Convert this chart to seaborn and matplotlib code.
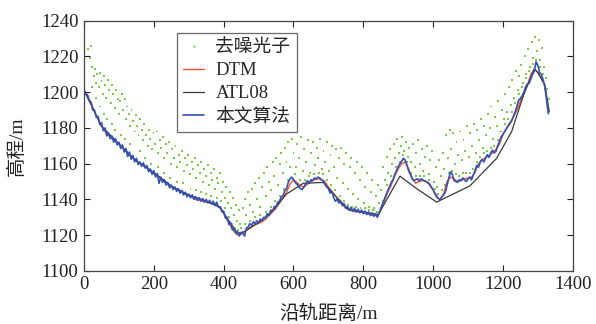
import numpy as np
import matplotlib
matplotlib.use("Agg")
import matplotlib.pyplot as plt
import seaborn as sns
from matplotlib.lines import Line2D

# 地面 DTM（每 10 m 取一点）
dtm_x = np.arange(0, 1340, 10)
dtm_h = [1201, 1198, 1194, 1189, 1185, 1181, 1178, 1176, 1174, 1172.5,
         1171, 1169, 1167, 1165, 1163, 1161.5, 1160, 1159, 1158, 1156,
         1154.5, 1153, 1152, 1150, 1148.5, 1147, 1146, 1145, 1144, 1143,
         1142, 1141, 1140, 1139.5, 1139, 1138.5, 1138, 1137.5, 1137, 1135,
         1132, 1128.5, 1125, 1122, 1120, 1120.5, 1122, 1123.5, 1125, 1126,
         1126.5, 1127.5, 1129, 1131, 1133, 1135, 1138, 1141, 1144, 1148.5,
         1151, 1149.5, 1147.5, 1147, 1148.5, 1150, 1151, 1151.5, 1151, 1150,
         1147, 1144.5, 1142, 1139, 1137, 1135, 1134, 1133.5, 1133, 1133,
         1132.5, 1132, 1131.5, 1131, 1131, 1134, 1139, 1144, 1148, 1153,
         1157, 1160, 1161, 1157, 1152, 1149, 1150, 1150.5, 1150, 1148,
         1145, 1141, 1140, 1143, 1150, 1152.5, 1151.5, 1150, 1150.5, 1151.5,
         1152, 1152.5, 1155, 1160, 1162, 1163.5, 1164.5, 1166, 1168, 1171,
         1176, 1180, 1183, 1186, 1190, 1195, 1199, 1204, 1210, 1213,
         1211, 1208, 1204, 1189]

# ATL08 地面点
atl_x = [0, 20, 50, 100, 150, 200, 250, 300, 350, 390, 420, 440, 460, 500,
         540, 580, 628, 685, 720, 760, 800, 843, 905, 953, 1010, 1105, 1182,
         1225, 1260, 1290, 1300, 1320, 1333]
atl_h = [1201, 1193, 1181, 1171, 1161.5, 1155, 1147.5, 1142.5, 1139, 1135.5,
         1126.5, 1121, 1122, 1127, 1133.5, 1143, 1149, 1149.5, 1142, 1134,
         1133, 1131.5, 1153, 1146, 1138.5, 1147.5, 1163, 1178, 1199, 1213,
         1211, 1204, 1189]

# 本文算法（每 5 m 取一点）
alg_h = [1201.5, 1199, 1198.5, 1195, 1194.5, 1190, 1190, 1186, 1186.5, 1182,
         1183, 1178.5, 1180, 1175.5, 1177, 1174, 1175.5, 1172, 1174, 1170.5, 1172,
         1168.5, 1170.5, 1166.5, 1168.5, 1164, 1166.5, 1162.5, 1164.5, 1161, 1163,
         1159.5, 1161, 1158.5, 1160.5, 1157.5, 1159, 1155.5, 1157, 1154, 1156,
         1152.5, 1154.5, 1149, 1152.5, 1149.5, 1151, 1148, 1149.5, 1146.5, 1148,
         1145.5, 1147, 1144.5, 1146, 1143.5, 1145, 1142.5, 1144, 1141.5, 1143,
         1141, 1142.5, 1140, 1141.5, 1139.5, 1141, 1139, 1140.5, 1138.5, 1140,
         1138, 1139.5, 1137.5, 1139, 1136.5, 1138.5, 1135.5, 1136, 1133, 1133.5,
         1129.5, 1130, 1126, 1127, 1123, 1123.5, 1121, 1122, 1119.5, 1121.5,
         1121, 1119.5, 1124, 1124.5, 1126.5, 1125.5, 1127.5, 1126.5, 1128, 1127,
         1129, 1128, 1130, 1129.5, 1132, 1131, 1134, 1133.5, 1136, 1136,
         1138.5, 1139, 1141.5, 1142, 1145, 1146, 1149.5, 1151.5, 1152.5, 1151,
         1149.5, 1148.5, 1147, 1146, 1145.5, 1147, 1149, 1150.5, 1149, 1151,
         1150.5, 1152, 1151.5, 1152.5, 1152, 1151, 1150.5, 1148.5, 1147, 1146,
         1143.5, 1144.5, 1141, 1139, 1140, 1138, 1139, 1136.5, 1137.5, 1135,
         1136, 1134, 1135.5, 1133.5, 1135, 1133, 1134.5, 1132.5, 1134, 1132,
         1133.5, 1131.5, 1133, 1131, 1132.5, 1130.5, 1132, 1130, 1132, 1135,
         1137.5, 1140, 1142.5, 1145, 1147, 1149.5, 1151, 1154, 1156, 1158.5,
         1160, 1161.5, 1163, 1162, 1159, 1156, 1154, 1151.5, 1150.5, 1151,
         1151.5, 1150.5, 1151.5, 1151, 1150.5, 1150, 1149.5, 1148.5, 1147, 1145.5,
         1143.5, 1142, 1140.5, 1140, 1141.5, 1142.5, 1144, 1148, 1152, 1155.5,
         1154, 1150.5, 1150, 1149.5, 1151, 1150.5, 1152, 1151, 1150, 1151.5,
         1152.5, 1151, 1153.5, 1156, 1159, 1158, 1161, 1162.5, 1161, 1163,
         1165, 1163.5, 1166, 1167.5, 1166, 1167, 1170, 1172.5, 1175, 1176.5,
         1178, 1179.5, 1181, 1182.5, 1184, 1186.5, 1189, 1192, 1195.5, 1196.5,
         1198, 1200, 1203, 1204.5, 1205, 1207.5, 1210, 1212, 1217, 1215,
         1211, 1210, 1207, 1203, 1196, 1188]
assert len(alg_h) == 267, len(alg_h)
alg_x = np.arange(0, 1335, 5)

# 去噪光子 (距离, 高程)
ph_0 = [(12, 1224), (17, 1219), (20, 1226), (24, 1214), (28, 1209), (31, 1213), (35, 1205),
        (38, 1210), (42, 1203), (46, 1211), (50, 1206), (53, 1199), (57, 1209), (61, 1204),
        (64, 1197), (68, 1207), (72, 1201), (76, 1194), (80, 1204), (84, 1199), (88, 1191),
        (92, 1201), (96, 1196), (100, 1188), (104, 1195), (108, 1199), (112, 1190), (116, 1196),
        (120, 1185), (124, 1192), (128, 1188), (132, 1181), (136, 1190), (140, 1184), (145, 1178),
        (148, 1187), (22, 1203), (34, 1197), (47, 1192), (58, 1188), (66, 1185), (79, 1182),
        (90, 1179), (106, 1176), (118, 1174), (131, 1171)]
ph_150 = [(152, 1181), (156, 1176), (160, 1185), (165, 1179), (169, 1173), (173, 1182), (178, 1176),
          (182, 1170), (186, 1179), (190, 1174), (195, 1168), (199, 1177), (204, 1171), (208, 1178),
          (212, 1166), (217, 1173), (221, 1169), (226, 1175), (230, 1163), (235, 1171), (239, 1166),
          (244, 1172), (248, 1160), (253, 1168), (258, 1163), (262, 1170), (267, 1158), (271, 1165),
          (276, 1161), (281, 1167), (285, 1156), (290, 1163), (294, 1159), (299, 1165), (160, 1167),
          (176, 1163), (193, 1160), (211, 1158), (229, 1155), (247, 1152), (265, 1150), (283, 1149)]
ph_300 = [(304, 1154), (308, 1161), (313, 1157), (318, 1163), (322, 1152), (327, 1159), (331, 1155),
          (336, 1161), (340, 1150), (345, 1157), (349, 1153), (354, 1159), (358, 1148), (363, 1155),
          (367, 1151), (372, 1157), (376, 1146), (381, 1152), (385, 1149), (390, 1155), (394, 1144),
          (399, 1150), (403, 1141), (408, 1147), (412, 1138), (417, 1144), (421, 1135), (426, 1141),
          (430, 1131), (435, 1137), (439, 1128), (444, 1134), (448, 1126), (305, 1146), (320, 1145),
          (335, 1144), (350, 1143), (365, 1142), (380, 1141), (392, 1139), (405, 1135), (415, 1130),
          (425, 1126), (433, 1124), (442, 1123), (450, 1124)]
ph_450 = [(455, 1135), (460, 1140), (465, 1131), (470, 1144), (475, 1137), (480, 1146), (485, 1133),
          (490, 1149), (495, 1140), (500, 1152), (505, 1136), (510, 1147), (515, 1155), (520, 1142),
          (525, 1158), (530, 1150), (535, 1145), (540, 1161), (545, 1153), (550, 1163), (555, 1148),
          (560, 1160), (565, 1166), (570, 1155), (575, 1169), (580, 1161), (585, 1172), (590, 1158),
          (595, 1174), (600, 1166), (460, 1126), (475, 1128), (490, 1130), (505, 1131), (520, 1133),
          (535, 1136), (548, 1139), (560, 1142), (572, 1146), (585, 1151)]
ph_600 = [(606, 1158), (611, 1171), (616, 1163), (621, 1175), (626, 1156), (631, 1168), (636, 1161),
          (641, 1173), (646, 1155), (651, 1166), (656, 1172), (661, 1159), (666, 1169), (671, 1163),
          (676, 1174), (681, 1157), (686, 1167), (691, 1161), (696, 1172), (701, 1156), (706, 1165),
          (711, 1170), (716, 1158), (721, 1168), (726, 1152), (731, 1163), (736, 1169), (741, 1149),
          (746, 1160), (751, 1166), (756, 1146), (761, 1158), (766, 1163), (771, 1143), (776, 1155),
          (781, 1161), (786, 1140), (791, 1151), (796, 1158), (801, 1138), (806, 1147), (811, 1155),
          (816, 1136), (821, 1144), (826, 1151), (831, 1135), (836, 1142), (841, 1148), (846, 1138),
          (605, 1154), (618, 1151), (632, 1151), (645, 1153), (658, 1154), (672, 1155), (684, 1154),
          (696, 1151), (708, 1148), (720, 1145), (732, 1142), (744, 1139), (756, 1137), (768, 1136),
          (780, 1136), (792, 1135), (804, 1135), (816, 1134), (828, 1134), (838, 1133)]
ph_850 = [(852, 1145), (857, 1158), (862, 1151), (867, 1164), (872, 1155), (877, 1168), (882, 1160),
          (887, 1171), (892, 1163), (897, 1174), (902, 1166), (907, 1170), (912, 1175), (917, 1167),
          (922, 1172), (927, 1164), (932, 1169), (937, 1161), (942, 1171), (947, 1158), (952, 1166),
          (957, 1173), (962, 1160), (967, 1168), (972, 1156), (977, 1164), (982, 1170), (987, 1154),
          (992, 1162), (997, 1167), (855, 1139), (868, 1148), (880, 1153), (893, 1158), (905, 1161),
          (915, 1165), (926, 1161), (938, 1155), (950, 1153), (963, 1153), (975, 1153), (988, 1151)]
ph_1000 = [(1002, 1150), (1007, 1158), (1012, 1147), (1017, 1162), (1022, 1153), (1027, 1166),
           (1032, 1157), (1037, 1176), (1042, 1163), (1047, 1179), (1052, 1168), (1057, 1177),
           (1062, 1160), (1067, 1172), (1072, 1165), (1077, 1178), (1082, 1162), (1087, 1173),
           (1092, 1167), (1097, 1181), (1102, 1164), (1107, 1177), (1112, 1170), (1117, 1182),
           (1122, 1166), (1127, 1179), (1132, 1173), (1137, 1185), (1142, 1169), (1147, 1181),
           (1005, 1146), (1015, 1143), (1025, 1145), (1035, 1148), (1045, 1155), (1055, 1156),
           (1065, 1154), (1075, 1153), (1085, 1155), (1095, 1155), (1105, 1155), (1115, 1157),
           (1125, 1161), (1135, 1164), (1145, 1166)]
ph_1150 = [(1152, 1176), (1157, 1188), (1162, 1180), (1167, 1192), (1172, 1174), (1177, 1186),
           (1182, 1181), (1187, 1195), (1192, 1178), (1197, 1190), (1202, 1185), (1207, 1199),
           (1212, 1189), (1217, 1203), (1222, 1193), (1227, 1207), (1232, 1197), (1237, 1212),
           (1242, 1201), (1247, 1209), (1252, 1215), (1257, 1205), (1262, 1220), (1267, 1210),
           (1272, 1224), (1277, 1214), (1282, 1228), (1287, 1219), (1292, 1231), (1297, 1223),
           (1302, 1229), (1307, 1218), (1312, 1225), (1317, 1214), (1322, 1208), (1327, 1202),
           (1332, 1196), (1155, 1167), (1165, 1169), (1175, 1170), (1185, 1173), (1195, 1178),
           (1205, 1182), (1215, 1185), (1225, 1189), (1235, 1194), (1245, 1199), (1255, 1203),
           (1265, 1208), (1275, 1212), (1285, 1216), (1295, 1218), (1305, 1214), (1315, 1210)]

photons = ph_0 + ph_150 + ph_300 + ph_450 + ph_600 + ph_850 + ph_1000 + ph_1150
ph_x = [p[0] for p in photons]
ph_h = [p[1] for p in photons]

c_ph = '#78cc48'
c_dtm = '#f2512b'
c_atl = '#3a3a3a'
c_alg = '#3152b5'

sns.set_style('ticks')
plt.rcParams['font.family'] = ['Liberation Serif', 'Noto Sans CJK SC']
plt.rcParams['axes.unicode_minus'] = False

fig = plt.figure(figsize=(5.96, 3.24), dpi=100)
ax = fig.add_axes([0.141, 0.164, 0.820, 0.772])

sns.scatterplot(x=ph_x, y=ph_h, ax=ax, s=2, color=c_ph, edgecolor='none', marker='s')
sns.lineplot(x=dtm_x, y=dtm_h, ax=ax, color=c_dtm, lw=1.0, sort=False)
sns.lineplot(x=atl_x, y=atl_h, ax=ax, color=c_atl, lw=0.9, sort=False)
sns.lineplot(x=alg_x, y=alg_h, ax=ax, color=c_alg, lw=1.2, sort=False)

ax.set_xlim(0, 1400)
ax.set_ylim(1100, 1240)
ax.set_xticks(range(0, 1401, 200))
ax.set_yticks(range(1100, 1241, 20))
ax.tick_params(direction='in', top=True, right=True, length=4, width=0.8,
               labelsize=13.5, colors='#222222', pad=4)
for sp in ax.spines.values():
    sp.set_color('#444444')
    sp.set_linewidth(0.9)

ax.set_xlabel('沿轨距离/m', fontsize=14, labelpad=8, color='#222222')
ax.set_ylabel('高程/m', fontsize=14, labelpad=11, color='#222222')

handles = [
    Line2D([], [], ls='none', marker='s', ms=1.4, color=c_ph, mec='none'),
    Line2D([], [], color=c_dtm, lw=1.0),
    Line2D([], [], color=c_atl, lw=0.9),
    Line2D([], [], color=c_alg, lw=1.2),
]
leg = ax.legend(handles, ['去噪光子', 'DTM', 'ATL08', '本文算法'],
                loc='upper left', bbox_to_anchor=(0.19, 0.951), borderaxespad=0,
                fontsize=13.5, frameon=True, fancybox=False, handlelength=1.1,
                handletextpad=0.6, labelspacing=0.3, borderpad=0.35)
leg.get_frame().set_edgecolor('#444444')
leg.get_frame().set_linewidth(0.9)

fig.savefig('out.png', dpi=100)
